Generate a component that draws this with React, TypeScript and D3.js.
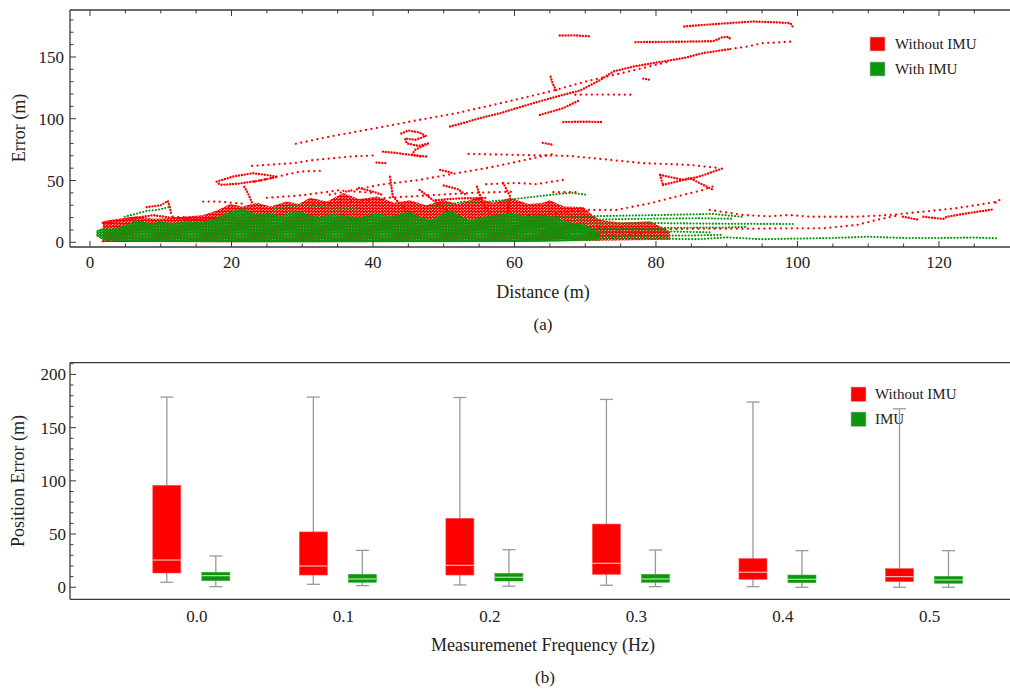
import React from "react";
import * as d3 from "d3";

type P = [number, number];

// ---------- (a) scatter: distance vs error ----------
const distanceTicks = [0, 20, 40, 60, 80, 100, 120];
const errorTicks = [0, 50, 100, 150];
const legendA = ["Without IMU", "With IMU"];

// dense red cloud (upper boundary; lower boundary near zero)
const redCloudTop: P[] = [
  [1.8, 17], [4, 19], [6.6, 21], [9, 19], [11.3, 19.7], [14, 21], [16, 22], [18, 26], [19.8, 31],
  [21.5, 29], [23.6, 32], [25.5, 29], [27.8, 33], [29.5, 31], [31.1, 36], [33.5, 33], [35.8, 40],
  [38, 35], [40.6, 37], [43, 32], [45.2, 34], [47.5, 30], [49.9, 34], [52, 31], [54.7, 36],
  [57, 32], [59.4, 36], [62, 31], [64, 32], [65, 34], [67, 29], [69.7, 28.6], [71, 22],
  [72.1, 18], [75, 16], [79.2, 17], [82, 8.5],
];
const redCloudBottom: P[] = [[82, 2], [60, 0.2], [20, 0], [1.8, 0.3]];

// dense green cloud
const greenCloudTop: P[] = [
  [0.9, 9.5], [1.8, 11.6], [3, 11], [4.2, 12.6], [5.5, 15], [6.6, 18.1], [8.5, 15.5], [10, 17],
  [11.3, 15.6], [13, 16.5], [16, 16.7], [18, 20], [19.8, 24.8], [21.6, 27.8], [23.5, 22.5],
  [25.4, 23.7], [27, 21.5], [29.2, 25.5], [31, 22], [32.5, 20.7], [34, 23], [35.8, 22.1],
  [38, 20], [40.5, 23.5], [42.5, 21], [45.2, 24.8], [46.5, 21], [48.1, 18.1], [50.9, 26.2],
  [52.5, 21], [53.7, 18.1], [56, 21], [59.4, 23.7], [62, 21], [64, 22.5], [66.4, 19],
  [68, 16], [70, 14], [72, 8],
];
const greenCloudBottom: P[] = [[72, 1.5], [60, 0.3], [30, 0], [10, 0.3], [2, 1.5], [0.9, 5]];

// red trails, densely sampled
const redDenseTrails: P[][] = [
  [[84.0, 174.7], [88, 176.5], [93.7, 178.7], [97, 178], [99.0, 177.4], [99.3, 174.7]],
  [[77.1, 162.0], [83, 162.3], [88.1, 162.8], [89.4, 166], [90.3, 166.2], [90.6, 163.5]],
  [[50.9, 93.7], [53, 97], [55.1, 100.5], [58, 104.5], [60.3, 108.6], [63.5, 114], [66.9, 119.4],
   [69.3, 122.9], [72, 131], [74, 138.3], [77, 142.5], [79.6, 145], [83.9, 149.1], [86.7, 153.2], [90.5, 156.4]],
  [[66.4, 167.4], [68.5, 167.5], [70.5, 166.8]],
  [[65.1, 134], [65.3, 130], [65.6, 126], [66, 122]],
  [[63.6, 103.1], [66.9, 108.6], [69.3, 115.3]],
  [[66.9, 97.4], [69.5, 97.6], [72.5, 97.4]],
  [[44, 88], [45, 90.5], [46.5, 89], [47.5, 86], [46, 83], [44.5, 84], [44.8, 80], [46.5, 78],
   [47.8, 80], [46, 75], [45.5, 71], [47, 69]],
  [[41.4, 73.4], [43, 72.5], [45, 71], [47.6, 69.4]],
  [[17.9, 49.1], [20.2, 53.2], [23.0, 55.9], [25, 54.5], [26.5, 53], [24, 50], [21, 47.5], [18.5, 46.5], [17.9, 48.5]],
  [[21.8, 45], [22.3, 40], [22.6, 36], [22.9, 32]],
  [[8, 28.5], [10, 30], [11, 33.5], [11.3, 28], [11.5, 22]],
  [[1.8, 15.6], [5.2, 18.5], [8.9, 22], [11.3, 20], [14, 18.5], [18, 19], [22, 21]],
  [[80.6, 54.5], [83.9, 50.5], [86, 53], [89.5, 60]],
  [[81, 46.4], [84.8, 51.9], [88.1, 42.4]],
  [[80.6, 54.5], [80.8, 50], [81, 46.4]],
  [[117.8, 20.7], [120.6, 18.9], [121.1, 20.7], [124, 23.5], [127.7, 26.7]],
  [[114.9, 20.7], [117.3, 18.1]],
  [[42.4, 53], [42.8, 37], [45.2, 23.5]],
  [[46.6, 42.4], [49, 31.8], [50.9, 23.7]],
  [[54.7, 45], [55.5, 32], [56.5, 23.7]],
  [[58.4, 48], [59.4, 37], [59, 23.7]],
  [[48.9, 34], [52, 35.5], [56.2, 36]],
  [[38, 44], [40, 41], [41.5, 38]],
  [[50, 46], [52, 43], [53, 39]],
  [[78.2, 132.5], [79.2, 131.5]],
  [[64, 80.5], [65.4, 79]],
  [[49.5, 58.6], [51.3, 56]],
  [[40.5, 64.5], [42, 64]],
];

// red trails, sparsely sampled
const redSparseTrails: P[][] = [
  [[90.5, 156.4], [93, 158.5], [95.2, 161.3], [97, 161.6], [99.2, 162.5]],
  [[29.1, 79.7], [33.9, 85.6], [40, 92], [46, 98.5], [51.8, 104.5], [58, 112.5], [65, 122], [70, 130], [76, 138], [82, 146.4]],
  [[68.6, 119.4], [72, 119.6], [76.6, 119.4]],
  [[22.9, 61.8], [26, 63], [28.7, 64], [31.5, 66.5], [34.3, 68], [37, 69.5], [40, 70.2]],
  [[23.3, 49.1], [26, 52.5], [29.7, 57.2], [33, 58]],
  [[33.9, 38.5], [37, 42], [41, 46.5], [46.6, 50.5], [51.9, 56], [56, 60], [59.4, 64], [63, 68.5], [66, 72]],
  [[53.5, 71.5], [58, 71], [62, 70.5], [67.8, 69.9], [73, 67], [78.2, 64], [81.5, 63.3], [84.8, 62.6], [89, 60]],
  [[87.6, 26.2], [92.3, 22.1], [96, 21], [98.9, 22.1], [101.8, 20.7], [108.4, 20.7], [113.1, 22.1],
   [117.8, 24.8], [122.5, 27.6], [126.3, 31], [128.2, 32.9], [128.6, 34.3], [127.9, 31.6]],
  [[72, 12], [80, 10.5], [86.2, 11], [93, 11], [98.9, 11.3], [103.6, 11.3], [108.4, 14], [111.2, 18.1], [114.5, 22.1]],
  [[62, 22], [65, 23], [69.7, 26.2], [74.4, 26.2], [79.2, 31.6], [82.9, 37], [86.7, 42.4], [88.6, 46.4]],
  [[11.7, 20.7], [15, 20], [20.2, 18]],
  [[16, 33], [18, 33], [20, 32], [22, 31]],
  [[1.8, 0.8], [3, 1.5], [5, 2.5], [7, 3], [9, 2]],
  [[56, 47], [60.3, 48], [63, 47], [66.9, 50.5]],
  [[65.5, 40.6], [69.3, 40.6]],
  [[60, 4], [67, 6], [73, 5], [78, 7]],
  [[25, 36], [30, 38], [35, 42], [40, 40]],
  [[30, 30], [36, 32], [42, 36], [48, 38], [54, 40], [60, 41]],
];

// green trails
const greenTrails: P[][] = [
  [[4.9, 20.7], [6.5, 23], [8, 25.5], [9.5, 26.2], [11.3, 28.6]],
  [[56.5, 33], [60, 35], [63, 37], [66, 39], [68, 40], [70.2, 38.5]],
  [[72, 3.5], [80, 3], [86, 2.5], [90, 4], [95, 2.5], [100, 3], [105, 3.5], [110, 4.5], [115, 3.5], [120, 3.5], [125, 3.8], [128.5, 3.2]],
  [[60, 13], [70, 15], [80, 15.5], [90, 15], [99.4, 14.8]],
  [[60, 20], [70, 21], [80, 22], [88, 23], [92.3, 20.5]],
  [[60, 8], [70, 8.5], [80, 9], [88, 8]],
  [[62, 4], [75, 5], [85, 5.5], [89.5, 6]],
  [[65, 11], [78, 11.5], [90, 12], [93, 12.5]],
  [[68, 18], [78, 19], [86, 19.5], [91, 19]],
  [[48, 28], [51, 31], [53, 33], [55, 32]],
  [[26, 27], [30, 30], [34, 28], [38, 27]],
];

// ---------- (b) box plot ----------
const frequencies = ["0.0", "0.1", "0.2", "0.3", "0.4", "0.5"];
const positionTicks = [0, 50, 100, 150, 200];
const legendB = ["Without IMU", "IMU"];
const withoutMin = [4.7, 2.8, 2.2, 1.9, 0.6, 0];
const withoutQ1 = [13.4, 11.5, 11.5, 12.2, 7.5, 5.3];
const withoutMedian = [25.6, 20, 20.6, 22.5, 14.1, 10];
const withoutQ3 = [95.8, 52, 64.8, 59.4, 26.9, 17.5];
const withoutMax = [178.7, 178.7, 178.3, 176.5, 174, 167.7];
const imuMin = [0.6, 1.5, 1, 0.6, 0, 0];
const imuQ1 = [6.2, 4.7, 5.9, 4.7, 4.3, 3.8];
const imuMedian = [10.9, 7.8, 9.4, 7.8, 7.5, 6.9];
const imuQ3 = [14.1, 12.2, 13.1, 12.2, 11.5, 10.3];
const imuMax = [29.4, 34.7, 35.3, 35, 34.4, 34.4];

const RED = "#ff0000";
const GREEN = "#0b960b";
const FONT = "'Liberation Serif', 'Times New Roman', serif";
const AXIS = "#3a3a3a";

export default function App() {
  const W = 1010, H = 690;
  // top chart
  const xA = d3.scaleLinear().domain([-2.83, 129.9]).range([70, 1009]);
  const yA = d3.scaleLinear().domain([-3.8, 188]).range([247, 10]);
  const lineA = d3.line<P>().x((p) => xA(p[0])).y((p) => yA(p[1]));
  const poly = (top: P[], bottom: P[]) => lineA([...top, ...bottom])! + "Z";
  const minorX = d3.range(0, 130, 5);
  const minorY = d3.range(0, 190, 10);

  // bottom chart
  const yB = d3.scaleLinear().domain([-11.3, 211]).range([599.3, 362.7]);
  const xB = d3.scalePoint<string>().domain(frequencies).range([191.3, 924]);
  const minorYB = d3.range(0, 211, 10);
  const boxW = 28, capW = 13, off = 24.5;

  const boxes = (
    kind: "red" | "green",
    mins: number[], q1: number[], med: number[], q3: number[], maxs: number[]
  ) =>
    frequencies.map((f, i) => {
      const cx = (xB(f) as number) + (kind === "red" ? -off : off);
      const fill = kind === "red" ? RED : GREEN;
      const medCol = kind === "red" ? "#ffb3b3" : "#b5e3b5";
      return (
        <g key={kind + f}>
          <line x1={cx} x2={cx} y1={yB(mins[i])} y2={yB(maxs[i])} stroke="#9a9a9a" strokeWidth={1.3} />
          <line x1={cx - capW / 2} x2={cx + capW / 2} y1={yB(mins[i])} y2={yB(mins[i])} stroke="#9a9a9a" strokeWidth={1.3} />
          <line x1={cx - capW / 2} x2={cx + capW / 2} y1={yB(maxs[i])} y2={yB(maxs[i])} stroke="#9a9a9a" strokeWidth={1.3} />
          <rect x={cx - boxW / 2} y={yB(q3[i])} width={boxW} height={yB(q1[i]) - yB(q3[i])} fill={fill} stroke={kind === "red" ? "#ff5050" : "#3aa83a"} strokeWidth={0.6} />
          <line x1={cx - boxW / 2} x2={cx + boxW / 2} y1={yB(med[i])} y2={yB(med[i])} stroke={medCol} strokeWidth={1.2} />
        </g>
      );
    });

  return (
    <svg width={W} height={H} style={{ position: "absolute", left: 0, top: 0, background: "#fff" }} fontFamily={FONT}>
      <defs>
        <pattern id="redDots" width="3.2" height="3" patternUnits="userSpaceOnUse">
          <circle cx="0.8" cy="0.8" r="1.45" fill={RED} />
          <circle cx="2.4" cy="2.3" r="1.45" fill={RED} />
        </pattern>
        <pattern id="greenDots" width="3" height="2.6" patternUnits="userSpaceOnUse">
          <circle cx="0.8" cy="0.7" r="1.5" fill={GREEN} />
          <circle cx="2.3" cy="2" r="1.5" fill={GREEN} />
        </pattern>
        <clipPath id="clipA">
          <rect x={70} y={10} width={940} height={237} />
        </clipPath>
      </defs>
      <rect width={W} height={H} fill="#fff" />

      {/* ===== (a) ===== */}
      <g clipPath="url(#clipA)">
        <path d={poly(redCloudTop, redCloudBottom)} fill="url(#redDots)" />
        {redSparseTrails.map((t, i) => (
          <path key={"rs" + i} d={lineA(t)!} fill="none" stroke={RED} strokeWidth={2.3} strokeLinecap="round" strokeDasharray="0 5.5" />
        ))}
        {redDenseTrails.map((t, i) => (
          <path key={"rd" + i} d={lineA(t)!} fill="none" stroke={RED} strokeWidth={2.4} strokeLinecap="round" strokeDasharray="0 2.9" />
        ))}
        <path d={poly(greenCloudTop, greenCloudBottom)} fill="url(#greenDots)" />
        {greenTrails.map((t, i) => (
          <path key={"g" + i} d={lineA(t)!} fill="none" stroke={GREEN} strokeWidth={2.2} strokeLinecap="round" strokeDasharray="0 3.2" />
        ))}
      </g>
      {/* frame */}
      <line x1={70} x2={1010} y1={10} y2={10} stroke={AXIS} strokeWidth={1.3} />
      <line x1={70} x2={1010} y1={247} y2={247} stroke={AXIS} strokeWidth={1.3} />
      <line x1={70} x2={70} y1={10} y2={247} stroke={AXIS} strokeWidth={1.3} />
      {minorX.map((v) => {
        const len = v % 20 === 0 ? 6 : 3.5;
        return (
          <g key={"tx" + v} stroke={AXIS} strokeWidth={1}>
            <line x1={xA(v)} x2={xA(v)} y1={247} y2={247 - len} />
            <line x1={xA(v)} x2={xA(v)} y1={10} y2={10 + len} />
          </g>
        );
      })}
      {minorY.map((v) => (
        <line key={"ty" + v} x1={70} x2={70 + (v % 50 === 0 ? 6 : 3.5)} y1={yA(v)} y2={yA(v)} stroke={AXIS} strokeWidth={1} />
      ))}
      {distanceTicks.map((v) => (
        <text key={"lx" + v} x={xA(v)} y={268} textAnchor="middle" fontSize={17} fill="#222">{v}</text>
      ))}
      {errorTicks.map((v) => (
        <text key={"ly" + v} x={64} y={yA(v) + 6} textAnchor="end" fontSize={17} fill="#222">{v}</text>
      ))}
      <text transform={`translate(25,128) rotate(-90)`} textAnchor="middle" fontSize={18} fill="#222">Error (m)</text>
      <text x={543} y={298} textAnchor="middle" fontSize={18} fill="#222">Distance (m)</text>
      <text x={543} y={330} textAnchor="middle" fontSize={17} fill="#222">(a)</text>
      {legendA.map((t, i) => (
        <g key={"la" + t}>
          <rect x={870} y={37 + i * 25} width={15} height={14} fill={i === 0 ? RED : GREEN} stroke="#bbb" strokeWidth={0.6} />
          <text x={895} y={49 + i * 25} fontSize={15} fill="#222">{t}</text>
        </g>
      ))}

      {/* ===== (b) ===== */}
      <line x1={70} x2={1010} y1={362.7} y2={362.7} stroke={AXIS} strokeWidth={1.3} />
      <line x1={70} x2={1010} y1={599.3} y2={599.3} stroke={AXIS} strokeWidth={1.3} />
      <line x1={70} x2={70} y1={362.7} y2={599.3} stroke={AXIS} strokeWidth={1.3} />
      {minorYB.map((v) => (
        <line key={"tb" + v} x1={70} x2={70 + (v % 50 === 0 ? 6 : 3.5)} y1={yB(v)} y2={yB(v)} stroke={AXIS} strokeWidth={1} />
      ))}
      {positionTicks.map((v) => (
        <text key={"lb" + v} x={66} y={yB(v) + 6} textAnchor="end" fontSize={17} fill="#222">{v}</text>
      ))}
      {frequencies.map((f) => (
        <text key={"lf" + f} x={(xB(f) as number) + 5.5} y={622} textAnchor="middle" fontSize={17} fill="#222">{f}</text>
      ))}
      <text transform={`translate(24,481) rotate(-90)`} textAnchor="middle" fontSize={18} fill="#222">Position Error (m)</text>
      <text x={543} y={651} textAnchor="middle" fontSize={18} fill="#222">Measuremenet Frequency (Hz)</text>
      <text x={545} y={683} textAnchor="middle" fontSize={17} fill="#222">(b)</text>
      {legendB.map((t, i) => (
        <g key={"lgb" + t}>
          <rect x={851} y={387 + i * 25} width={15} height={14.5} fill={i === 0 ? RED : GREEN} stroke="#bbb" strokeWidth={0.6} />
          <text x={875} y={399 + i * 25} fontSize={15} fill="#222">{t}</text>
        </g>
      ))}
      {boxes("red", withoutMin, withoutQ1, withoutMedian, withoutQ3, withoutMax)}
      {boxes("green", imuMin, imuQ1, imuMedian, imuQ3, imuMax)}
    </svg>
  );
}
